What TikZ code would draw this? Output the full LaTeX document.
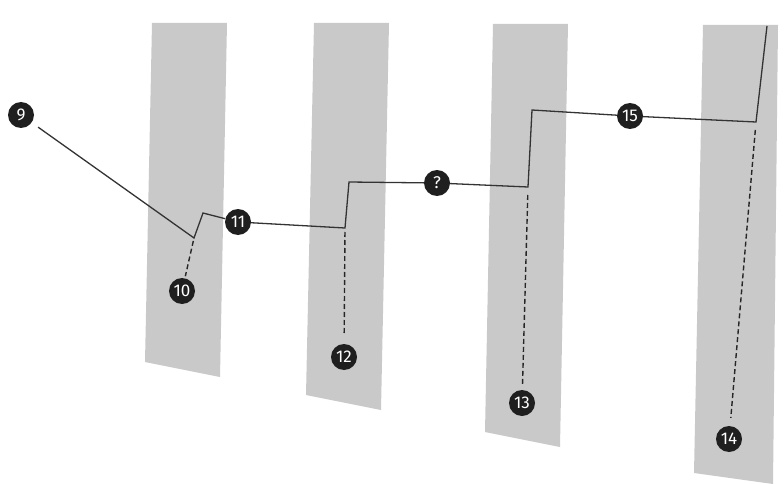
\documentclass[tikz,border=0pt]{standalone}
\usepackage{fontspec}
\setsansfont{Fira Sans}
\usetikzlibrary{calc}
\begin{document}
\begin{tikzpicture}[x=1pt,y=-1pt,
   strip/.style={fill=black!21},
   num/.style={circle,fill=black!88,text=white,inner sep=0pt,minimum size=26pt,
      font=\sffamily\fontsize{17}{17}\selectfont},
   route/.style={draw=black!80,line width=1.3pt,line join=miter},
   plumb/.style={draw=black!85,line width=1.4pt,dash pattern=on 5pt off 3pt}]
\useasboundingbox (0,0) rectangle (784,484);
\fill[strip] (152,23) -- (227,23) -- (220,377) -- (145,362) -- cycle;
\fill[strip] (314,23) -- (389,23) -- (381,410) -- (306,395) -- cycle;
\fill[strip] (493,24) -- (568,24) -- (560,447) -- (485,432) -- cycle;
\fill[strip] (703,25) -- (778,25) -- (773,484) -- (694,473) -- cycle;
\coordinate (b1) at (194,238);
\coordinate (b2) at (203,213);
\coordinate (b3) at (345,228);
\coordinate (b4) at (349,182);
\coordinate (b5) at (528,187);
\coordinate (b6) at (532,110);
\coordinate (b7) at (756,122);
\coordinate (b8) at (767,26);
\node[num] (n9) at (21,115) {9};
\node[num] (n10) at (182,291) {10};
\node[num] (n11) at (238,222) {11};
\node[num] (n12) at (344,357) {12};
\node[num] (q) at (437,183) {?};
\node[num] (n13) at (522,403) {13};
\node[num] (n15) at (630,116) {15};
\node[num] (n14) at (729,439) {14};
\draw[route] ($(n9)!21pt!(b1)$) -- (b1) -- (b2) -- (n11) -- (b3) -- (b4) -- (q)
   -- (b5) -- (b6) -- (n15) -- (b7) -- (b8);
\draw[plumb,shorten <=3pt,shorten >=2pt] (b1) -- (n10);
\draw[plumb,shorten <=4pt,shorten >=8pt] (b3) -- (n12);
\draw[plumb,shorten <=8pt,shorten >=4pt] (b5) -- (n13);
\draw[plumb,shorten <=8pt,shorten >=8pt] (b7) -- (n14);
\end{tikzpicture}
\end{document}
